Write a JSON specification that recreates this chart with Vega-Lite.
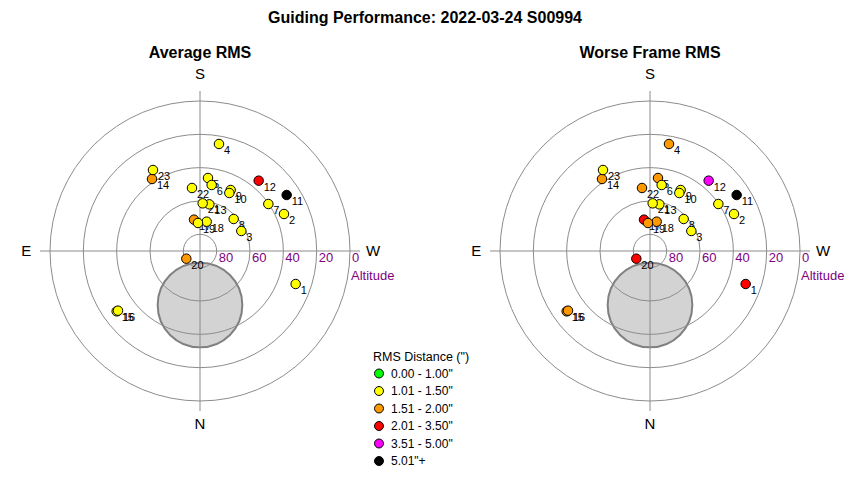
{
  "$schema": "https://vega.github.io/schema/vega-lite/v6.json",
  "padding": {"left": 5, "right": 5, "top": 10, "bottom": 5},
  "title": {"text": "Guiding Performance: 2022-03-24 S00994", "fontSize": 16, "fontWeight": "bold", "font": "Liberation Sans", "anchor": "middle", "offset": 19},
  "config": {"view": {"stroke": null}, "font": "Liberation Sans", "concat": {"spacing": 60}},
  "datasets": {
    "frames": [
      {"frame": 1, "x": 57.4, "y": -19.8, "avg": "1.01 - 1.50\"", "worst": "2.01 - 3.50\""},
      {"frame": 2, "x": 50.4, "y": 22.2, "avg": "1.01 - 1.50\"", "worst": "1.01 - 1.50\""},
      {"frame": 3, "x": 24.8, "y": 12.0, "avg": "1.01 - 1.50\"", "worst": "1.01 - 1.50\""},
      {"frame": 4, "x": 11.4, "y": 64.2, "avg": "1.01 - 1.50\"", "worst": "1.51 - 2.00\""},
      {"frame": 5, "x": 4.8, "y": 43.8, "avg": "1.01 - 1.50\"", "worst": "1.51 - 2.00\""},
      {"frame": 6, "x": 7.0, "y": 39.6, "avg": "1.01 - 1.50\"", "worst": "1.01 - 1.50\""},
      {"frame": 7, "x": 41.0, "y": 28.2, "avg": "1.01 - 1.50\"", "worst": "1.01 - 1.50\""},
      {"frame": 8, "x": 20.2, "y": 19.2, "avg": "1.01 - 1.50\"", "worst": "1.01 - 1.50\""},
      {"frame": 9, "x": 18.4, "y": 36.6, "avg": "1.01 - 1.50\"", "worst": "1.01 - 1.50\""},
      {"frame": 10, "x": 17.6, "y": 34.8, "avg": "1.01 - 1.50\"", "worst": "1.01 - 1.50\""},
      {"frame": 11, "x": 52.0, "y": 33.6, "avg": "5.01\"+", "worst": "5.01\"+"},
      {"frame": 12, "x": 35.2, "y": 42.2, "avg": "2.01 - 3.50\"", "worst": "3.51 - 5.00\""},
      {"frame": 13, "x": 5.6, "y": 28.0, "avg": "1.01 - 1.50\"", "worst": "1.01 - 1.50\""},
      {"frame": 14, "x": -28.8, "y": 43.2, "avg": "1.51 - 2.00\"", "worst": "1.51 - 2.00\""},
      {"frame": 15, "x": -50.0, "y": -36.2, "avg": "1.01 - 1.50\"", "worst": "1.51 - 2.00\""},
      {"frame": 16, "x": -49.2, "y": -35.8, "avg": "1.01 - 1.50\"", "worst": "1.51 - 2.00\""},
      {"frame": 17, "x": -3.6, "y": 18.8, "avg": "1.51 - 2.00\"", "worst": "2.01 - 3.50\""},
      {"frame": 18, "x": 4.0, "y": 17.6, "avg": "1.01 - 1.50\"", "worst": "1.51 - 2.00\""},
      {"frame": 19, "x": -1.2, "y": 16.8, "avg": "1.01 - 1.50\"", "worst": "1.51 - 2.00\""},
      {"frame": 20, "x": -8.2, "y": -4.6, "avg": "1.51 - 2.00\"", "worst": "2.01 - 3.50\""},
      {"frame": 21, "x": 1.6, "y": 28.6, "avg": "1.01 - 1.50\"", "worst": "1.01 - 1.50\""},
      {"frame": 22, "x": -4.8, "y": 37.8, "avg": "1.01 - 1.50\"", "worst": "1.51 - 2.00\""},
      {"frame": 23, "x": -28.2, "y": 48.6, "avg": "1.01 - 1.50\"", "worst": "1.01 - 1.50\""}
    ],
    "rings": [
      {"altitude": 80, "zenith": 10, "x": 0, "y": 0},
      {"altitude": 60, "zenith": 30, "x": 0, "y": 0},
      {"altitude": 40, "zenith": 50, "x": 0, "y": 0},
      {"altitude": 20, "zenith": 70, "x": 0, "y": 0},
      {"altitude": 0, "zenith": 90, "x": 0, "y": 0}
    ],
    "blob": [{"x": 0, "y": -32.4, "radius": 25.4}],
    "axes": [
      {"x": -96, "x2": 96, "y": 0, "y2": 0},
      {"x": 0, "x2": 0, "y": -96, "y2": 96}
    ],
    "altlabels": [
      {"label": "80", "x": 11.2, "y": -4.2},
      {"label": "60", "x": 31.2, "y": -4.2},
      {"label": "40", "x": 51.2, "y": -4.2},
      {"label": "20", "x": 71.2, "y": -4.2},
      {"label": "0", "x": 91.2, "y": -4.2},
      {"label": "Altitude", "x": 90.6, "y": -14.8}
    ],
    "compass": [
      {"label": "S", "x": 0, "y": 106.4},
      {"label": "N", "x": 0, "y": -103.6},
      {"label": "E", "x": -104.2, "y": 0},
      {"label": "W", "x": 103.9, "y": 0}
    ]
  },
  "hconcat": [
    {
      "width": 390, "height": 376,
      "title": {"text": "Average RMS", "fontSize": 16, "fontWeight": "bold", "offset": 2},
      "encoding": {
        "x": {"field": "x", "type": "quantitative", "scale": {"domain": [-117, 117], "nice": false, "zero": false}, "axis": null},
        "y": {"field": "y", "type": "quantitative", "scale": {"domain": [-112.8, 112.8], "nice": false, "zero": false}, "axis": null}
      },
      "layer": [
        {"data": {"name": "blob"}, "mark": {"type": "point", "shape": "circle", "filled": true, "fill": "#d3d3d3", "stroke": "#808080", "strokeWidth": 2, "opacity": 1},
         "encoding": {"size": {"field": "radius", "type": "quantitative", "scale": {"type": "pow", "exponent": 2, "domain": [0, 90], "range": [0, 90000]}, "legend": null}}},
        {"data": {"name": "rings"}, "mark": {"type": "point", "shape": "circle", "filled": false, "stroke": "#8c8c8c", "strokeWidth": 1, "opacity": 1},
         "encoding": {"size": {"field": "zenith", "type": "quantitative", "scale": {"type": "pow", "exponent": 2, "domain": [0, 90], "range": [0, 90000]}, "legend": null}}},
        {"data": {"name": "axes"}, "mark": {"type": "rule", "stroke": "#8c8c8c", "strokeWidth": 1},
         "encoding": {"x2": {"field": "x2"}, "y2": {"field": "y2"}}},
        {"data": {"name": "altlabels"}, "mark": {"type": "text", "align": "left", "baseline": "middle", "fontSize": 13, "color": "#800080"},
         "encoding": {"text": {"field": "label"}}},
        {"data": {"name": "compass"}, "mark": {"type": "text", "align": "center", "baseline": "middle", "fontSize": 15, "color": "black"},
         "encoding": {"text": {"field": "label"}}},
        {"data": {"name": "frames"}, "mark": {"type": "text", "align": "left", "baseline": "middle", "dx": 5, "dy": 7, "fontSize": 11, "color": "black"},
         "encoding": {"text": {"field": "frame"}}},
        {"data": {"name": "frames"}, "mark": {"type": "point", "shape": "circle", "filled": true, "size": 90, "stroke": "black", "strokeWidth": 1, "opacity": 1},
         "encoding": {"color": {"field": "avg", "type": "nominal", "title": "RMS Distance (\")",
           "scale": {"domain": ["0.00 - 1.00\"", "1.01 - 1.50\"", "1.51 - 2.00\"", "2.01 - 3.50\"", "3.51 - 5.00\"", "5.01\"+"], "range": ["#00ff00", "#ffff00", "#ff9900", "#ff0000", "#ff00ff", "#000000"]},
           "legend": {"orient": "none", "legendX": 368, "legendY": 288, "titleFontSize": 12.5, "titleFontWeight": "normal", "titlePadding": 4, "labelFontSize": 12, "symbolType": "circle", "symbolSize": 80, "symbolStrokeColor": "black", "symbolStrokeWidth": 1, "labelOffset": 6, "rowPadding": 3.5}}}}
      ]
    },
    {
      "width": 390, "height": 376,
      "title": {"text": "Worse Frame RMS", "fontSize": 16, "fontWeight": "bold", "offset": 2},
      "encoding": {
        "x": {"field": "x", "type": "quantitative", "scale": {"domain": [-117, 117], "nice": false, "zero": false}, "axis": null},
        "y": {"field": "y", "type": "quantitative", "scale": {"domain": [-112.8, 112.8], "nice": false, "zero": false}, "axis": null}
      },
      "layer": [
        {"data": {"name": "blob"}, "mark": {"type": "point", "shape": "circle", "filled": true, "fill": "#d3d3d3", "stroke": "#808080", "strokeWidth": 2, "opacity": 1},
         "encoding": {"size": {"field": "radius", "type": "quantitative", "scale": {"type": "pow", "exponent": 2, "domain": [0, 90], "range": [0, 90000]}, "legend": null}}},
        {"data": {"name": "rings"}, "mark": {"type": "point", "shape": "circle", "filled": false, "stroke": "#8c8c8c", "strokeWidth": 1, "opacity": 1},
         "encoding": {"size": {"field": "zenith", "type": "quantitative", "scale": {"type": "pow", "exponent": 2, "domain": [0, 90], "range": [0, 90000]}, "legend": null}}},
        {"data": {"name": "axes"}, "mark": {"type": "rule", "stroke": "#8c8c8c", "strokeWidth": 1},
         "encoding": {"x2": {"field": "x2"}, "y2": {"field": "y2"}}},
        {"data": {"name": "altlabels"}, "mark": {"type": "text", "align": "left", "baseline": "middle", "fontSize": 13, "color": "#800080"},
         "encoding": {"text": {"field": "label"}}},
        {"data": {"name": "compass"}, "mark": {"type": "text", "align": "center", "baseline": "middle", "fontSize": 15, "color": "black"},
         "encoding": {"text": {"field": "label"}}},
        {"data": {"name": "frames"}, "mark": {"type": "text", "align": "left", "baseline": "middle", "dx": 5, "dy": 7, "fontSize": 11, "color": "black"},
         "encoding": {"text": {"field": "frame"}}},
        {"data": {"name": "frames"}, "mark": {"type": "point", "shape": "circle", "filled": true, "size": 90, "stroke": "black", "strokeWidth": 1, "opacity": 1},
         "encoding": {"color": {"field": "worst", "type": "nominal", "title": "RMS Distance (\")",
           "scale": {"domain": ["0.00 - 1.00\"", "1.01 - 1.50\"", "1.51 - 2.00\"", "2.01 - 3.50\"", "3.51 - 5.00\"", "5.01\"+"], "range": ["#00ff00", "#ffff00", "#ff9900", "#ff0000", "#ff00ff", "#000000"]},
           "legend": {"orient": "none", "legendX": 368, "legendY": 288, "titleFontSize": 12.5, "titleFontWeight": "normal", "titlePadding": 4, "labelFontSize": 12, "symbolType": "circle", "symbolSize": 80, "symbolStrokeColor": "black", "symbolStrokeWidth": 1, "labelOffset": 6, "rowPadding": 3.5}}}}
      ]
    }
  ],
  "resolve": {"scale": {"color": "shared", "size": "shared"}, "legend": {"color": "shared"}}
}
